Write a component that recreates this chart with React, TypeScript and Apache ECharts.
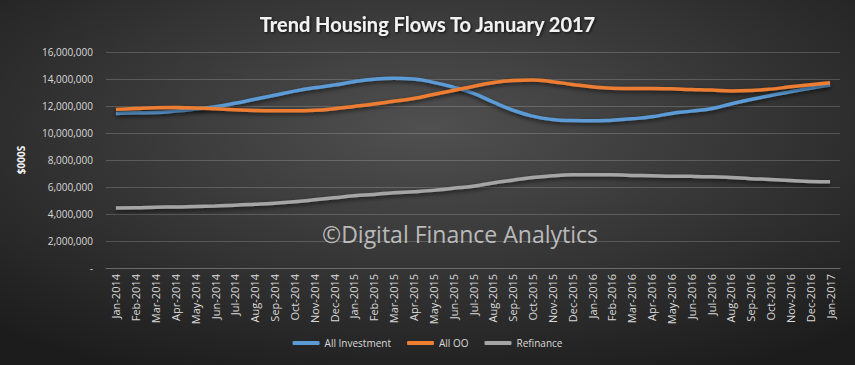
import React, { useEffect, useRef } from "react";
import * as echarts from "echarts";

const categories = [
  "Jan-2014","Feb-2014","Mar-2014","Apr-2014","May-2014","Jun-2014","Jul-2014","Aug-2014","Sep-2014","Oct-2014","Nov-2014","Dec-2014",
  "Jan-2015","Feb-2015","Mar-2015","Apr-2015","May-2015","Jun-2015","Jul-2015","Aug-2015","Sep-2015","Oct-2015","Nov-2015","Dec-2015",
  "Jan-2016","Feb-2016","Mar-2016","Apr-2016","May-2016","Jun-2016","Jul-2016","Aug-2016","Sep-2016","Oct-2016","Nov-2016","Dec-2016",
  "Jan-2017",
];

const allInvestment = [
  11450000, 11500000, 11520000, 11620000, 11770000, 11950000, 12200000, 12500000, 12800000, 13100000, 13350000, 13550000,
  13800000, 13980000, 14050000, 14000000, 13750000, 13400000, 12950000, 12300000, 11700000, 11250000, 11000000, 10920000,
  10900000, 10950000, 11050000, 11200000, 11450000, 11620000, 11800000, 12150000, 12480000, 12780000, 13050000, 13320000,
  13560000,
];

const allOO = [
  11750000, 11820000, 11870000, 11880000, 11860000, 11800000, 11720000, 11660000, 11640000, 11640000, 11680000, 11800000,
  11970000, 12150000, 12350000, 12550000, 12850000, 13150000, 13450000, 13720000, 13880000, 13930000, 13800000, 13600000,
  13420000, 13320000, 13300000, 13300000, 13270000, 13220000, 13180000, 13120000, 13150000, 13250000, 13420000, 13580000,
  13720000,
];

const refinance = [
  4450000, 4460000, 4500000, 4520000, 4560000, 4600000, 4650000, 4720000, 4800000, 4900000, 5050000, 5200000,
  5350000, 5450000, 5580000, 5650000, 5750000, 5900000, 6050000, 6300000, 6500000, 6700000, 6830000, 6900000,
  6910000, 6900000, 6860000, 6840000, 6800000, 6790000, 6760000, 6700000, 6620000, 6560000, 6490000, 6410000,
  6380000,
];

const yMin = 0;
const yMax = 16000000;
const yInterval = 2000000;

export default function App() {
  const ref = useRef<HTMLDivElement>(null);

  useEffect(() => {
    if (!ref.current) return;
    const chart = echarts.init(ref.current, undefined, { renderer: "svg" });
    const lineStyle = (color: string) => ({
      width: 3.5,
      color,
      shadowColor: "rgba(0,0,0,0.6)",
      shadowBlur: 4,
      shadowOffsetY: 2,
    });
    chart.setOption({
      animation: false,
      backgroundColor: {
        type: "radial",
        x: 0.5,
        y: 0.35,
        r: 0.75,
        colorStops: [
          { offset: 0, color: "#505050" },
          { offset: 1, color: "#1c1c1c" },
        ],
      },
      title: {
        text: "Trend Housing Flows To January 2017",
        left: "center",
        top: 9,
        textStyle: {
          color: "#f2f2f2",
          fontFamily: "Lato",
          fontWeight: "bold",
          fontSize: 20,
          textShadowColor: "rgba(0,0,0,0.8)",
          textShadowBlur: 3,
          textShadowOffsetX: 1,
          textShadowOffsetY: 1,
        },
      },
      grid: { left: 106, right: 15, top: 52, bottom: 97, containLabel: false },
      legend: {
        bottom: 12,
        left: "center",
        icon: "roundRect",
        itemWidth: 27,
        itemHeight: 4,
        itemGap: 16,
        textStyle: { color: "#d9d9d9", fontSize: 10, fontFamily: "Open Sans" },
        data: ["All Investment", "All OO", "Refinance"],
      },
      xAxis: {
        type: "category",
        data: categories,
        boundaryGap: true,
        axisTick: { show: false },
        axisLine: { show: true, lineStyle: { color: "#6a6a6a", width: 1 } },
        axisLabel: {
          rotate: 90,
          interval: 0,
          color: "#d9d9d9",
          fontSize: 11,
          fontFamily: "Open Sans",
          margin: 6,
        },
      },
      yAxis: {
        type: "value",
        min: yMin,
        max: yMax,
        interval: yInterval,
        name: "$000S",
        nameLocation: "middle",
        nameRotate: 90,
        nameGap: 80,
        nameTextStyle: { color: "#f2f2f2", fontWeight: "bold", fontSize: 10, fontFamily: "Open Sans" },
        axisLine: { show: false },
        axisTick: { show: false },
        splitLine: { lineStyle: { color: "rgba(255,255,255,0.18)", width: 1 } },
        axisLabel: {
          color: "#d9d9d9",
          fontSize: 10,
          fontFamily: "Open Sans",
          margin: 13,
          formatter: (v: number) => (v === 0 ? "-" : v.toLocaleString("en-US")),
        },
      },
      graphic: [
        {
          type: "text",
          left: 322,
          top: 222,
          style: {
            text: "©Digital Finance Analytics",
            fill: "rgba(220,220,220,0.8)",
            fontSize: 23,
            fontFamily: "Open Sans",
          },
        },
      ],
      series: [
        {
          name: "All Investment",
          type: "line",
          data: allInvestment,
          smooth: true,
          symbol: "none",
          color: "#5b9bd5",
          lineStyle: lineStyle("#5b9bd5"),
        },
        {
          name: "All OO",
          type: "line",
          data: allOO,
          smooth: true,
          symbol: "none",
          color: "#ed7d31",
          lineStyle: lineStyle("#ed7d31"),
        },
        {
          name: "Refinance",
          type: "line",
          data: refinance,
          smooth: true,
          symbol: "none",
          color: "#a5a5a5",
          lineStyle: lineStyle("#a5a5a5"),
        },
      ],
    });
    return () => chart.dispose();
  }, []);

  return <div ref={ref} style={{ width: 855, height: 365, position: "absolute", left: 0, top: 0 }} />;
}
